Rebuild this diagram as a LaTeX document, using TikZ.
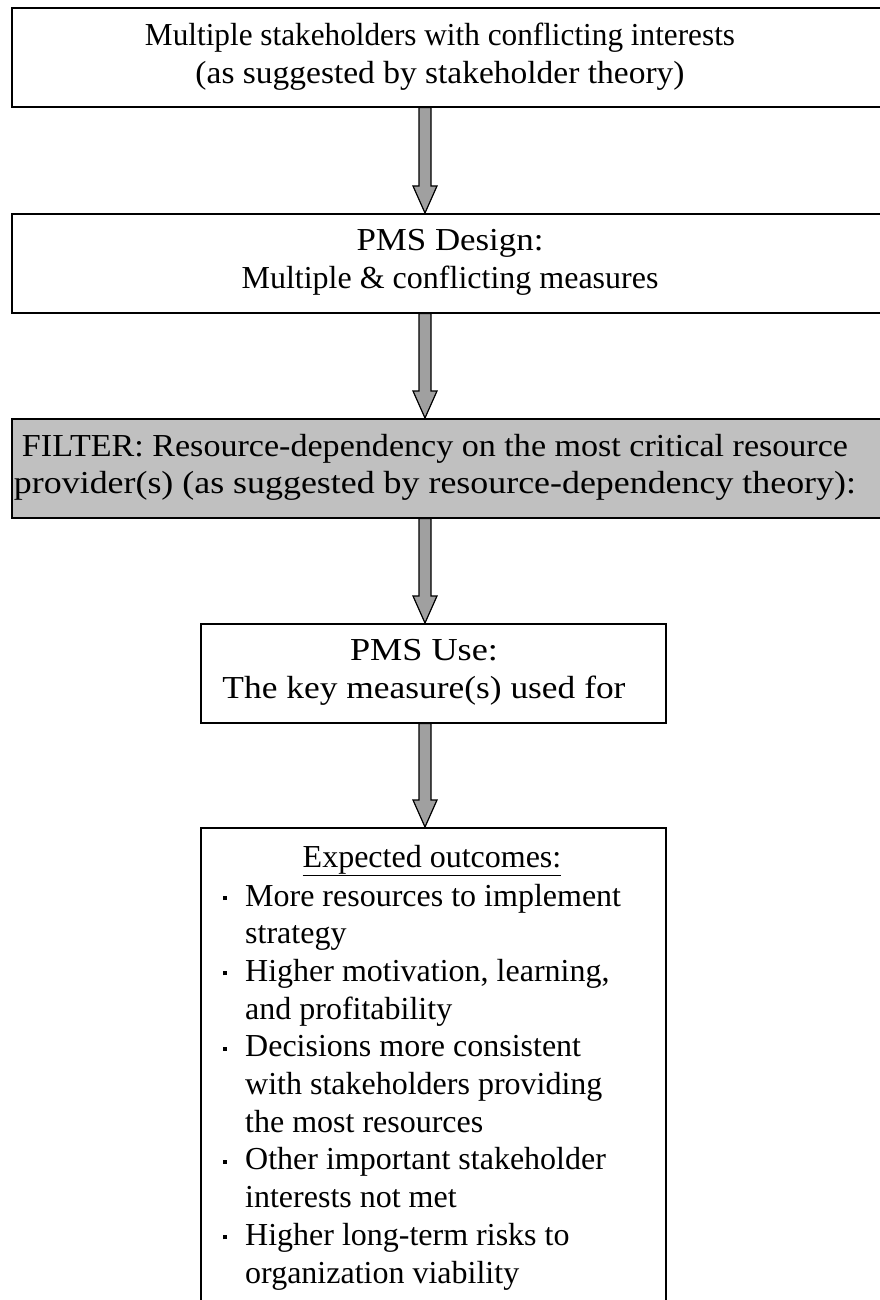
\documentclass[tikz,border=0pt]{standalone}
\usepackage{fontspec}
\usepackage{graphicx}
\setmainfont{Liberation Serif}
\definecolor{boxgray}{RGB}{192,192,192}
\definecolor{arrgray}{RGB}{160,160,160}
\newcommand\fatarrow[2]{%
  \draw[fatarr] ([xshift=-6pt]#1) -- ([xshift=-6pt,yshift=27pt]#2) -- ([xshift=-12pt,yshift=27pt]#2) -- (#2)
    -- ([xshift=12pt,yshift=27pt]#2) -- ([xshift=6pt,yshift=27pt]#2) -- ([xshift=6pt]#1) -- cycle;}
\newcommand\hs[2]{\resizebox{#1}{\height}{#2}}
\tikzset{
  box/.style={draw=black, line width=1.6pt, fill=white, minimum height=99pt, inner sep=0pt, anchor=north west},
  graybox/.style={box, fill=boxgray},
  txt/.style={font=\fontsize{32}{37.5}\selectfont, align=center, inner sep=0pt},
  listtxt/.style={font=\fontsize{32}{37.7}\selectfont, inner sep=0pt, anchor=base west},
  fatarr/.style={draw=black, line width=1.2pt, fill=arrgray, line join=miter}
}
\newcommand\bulletmark{\rule[6pt]{4pt}{4pt}}
\begin{document}
\begin{tikzpicture}[x=1pt,y=-1pt]
\useasboundingbox (0,0) rectangle (879,1300);
\fill[white] (0,0) rectangle (879,1300);
% boxes
\node[box, minimum width=884pt] (b1) at (11,7) {};
\node[txt] (t1) at (440,56.5) {\hs{590pt}{Multiple stakeholders with conflicting interests}\\\hs{489pt}{(as suggested by stakeholder theory)}};
\node[box, minimum width=884pt] (b2) at (11,213) {};
\node[txt] (t2) at (450,262.5) {\hs{187pt}{PMS Design:}\\Multiple \& conflicting measures};
\node[graybox, minimum width=884pt] (b3) at (11,418) {};
\node[txt] (t3) at (435,467.5) {\hs{826pt}{FILTER: Resource-dependency on the most critical resource}\\\hs{842pt}{provider(s) (as suggested by resource-dependency theory):}};
\node[box, minimum width=465pt] (b4) at (200,623) {};
\node[txt] (t4) at (424,672.5) {\hs{148pt}{PMS Use:}\\\hs{403pt}{The key measure(s) used for}};
\node[box, minimum width=465pt, minimum height=520pt] (b5) at (200,827) {};
\node[txt, anchor=base] (t5) at (432,867) {\underline{Expected outcomes:}};
\node[listtxt] (t6) at (223,906) {\begin{tabular}[t]{@{}l@{\hspace{18pt}}l@{}}
\bulletmark & More resources to implement\\
 & strategy\\
\bulletmark & Higher motivation, learning,\\
 & and profitability\\
\bulletmark & Decisions more consistent\\
 & with stakeholders providing\\
 & the most resources\\
\bulletmark & Other important stakeholder\\
 & interests not met\\
\bulletmark & Higher long-term risks to\\
 & organization viability
\end{tabular}};
% arrow anchor coordinates
\coordinate (a1s) at (425,0 |- b1.south);
\coordinate (a1e) at (425,0 |- b2.north);
\coordinate (a2s) at (425,0 |- b2.south);
\coordinate (a2e) at (425,0 |- b3.north);
\coordinate (a3s) at (425,0 |- b3.south);
\coordinate (a3e) at (425,0 |- b4.north);
\coordinate (a4s) at (425,0 |- b4.south);
\coordinate (a4e) at (425,0 |- b5.north);
\fatarrow{a1s}{a1e}
\fatarrow{a2s}{a2e}
\fatarrow{a3s}{a3e}
\fatarrow{a4s}{a4e}
\end{tikzpicture}
\end{document}
